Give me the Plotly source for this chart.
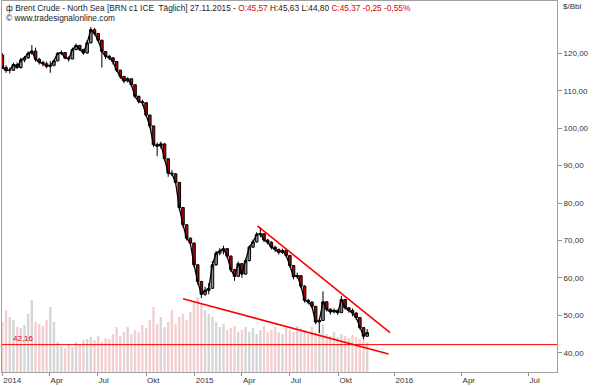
import numpy as np
import pandas as pd
import plotly.graph_objects as go

# ---------------- data (weekly bars) ----------------
week_end = pd.date_range("2014-01-03", periods=100, freq="7D")  # Fridays

opens = [119.5, 116.2, 115.4, 115.5, 117.0, 116.2, 118.2, 118.8, 120.0, 120.6,
         118.4, 117.6, 117.2, 116.5, 116.8, 118.0, 120.0, 120.2, 118.8, 118.5,
         121.0, 122.1, 121.0, 120.1, 122.8, 126.3, 125.3, 123.5, 120.5, 119.2,
         118.8, 117.8, 115.5, 113.8, 112.6, 113.2, 111.6, 108.5, 107.1, 106.8,
         103.5, 100.6, 95.6, 95.2, 95.8, 91.8, 88.0, 87.8, 85.5, 78.8,
         74.2, 70.6, 69.3, 63.5, 59.0, 55.6, 56.6, 57.2, 63.5, 66.6,
         67.2, 67.8, 65.8, 62.2, 60.4, 63.8, 61.0, 64.6, 68.2, 69.6,
         71.6, 71.8, 70.1, 69.5, 68.2, 67.6, 66.8, 67.3, 66.0, 63.3,
         60.3, 60.6, 57.8, 54.0, 53.5, 52.4, 48.2, 48.6, 53.6, 51.6,
         50.9, 51.3, 50.7, 54.2, 52.0, 51.3, 50.6, 49.4, 46.7, 44.4]

highs = [120.0, 116.8, 116.2, 117.5, 117.6, 118.8, 119.3, 120.5, 122.2, 121.5,
         118.8, 118.0, 117.8, 117.9, 118.3, 120.3, 120.8, 120.3, 119.2, 121.5,
         122.6, 122.3, 121.2, 123.5, 127.0, 126.8, 125.4, 123.6, 120.6, 119.6,
         119.0, 117.9, 115.6, 114.0, 113.6, 113.3, 111.7, 108.7, 107.6, 106.9,
         103.6, 100.7, 96.2, 96.4, 95.9, 92.0, 88.8, 88.0, 85.6, 78.9,
         74.3, 70.8, 69.4, 63.6, 59.2, 57.6, 58.6, 64.5, 67.2, 68.0,
         68.6, 68.0, 66.0, 62.4, 64.4, 63.9, 65.2, 68.7, 70.2, 72.2,
         73.5, 71.9, 70.4, 69.8, 68.6, 67.8, 67.8, 67.6, 66.1, 63.4,
         61.4, 60.7, 58.0, 54.4, 53.8, 52.5, 49.2, 56.4, 53.8, 51.9,
         51.8, 51.5, 55.2, 54.4, 52.2, 51.8, 50.8, 49.5, 46.8, 46.3]

lows = [115.8, 114.8, 114.6, 115.3, 115.8, 115.9, 117.6, 118.5, 119.6, 117.8,
        117.0, 116.5, 116.0, 114.8, 116.5, 117.8, 119.5, 118.4, 117.8, 118.4,
        120.8, 120.6, 119.6, 119.9, 122.6, 124.8, 122.8, 116.2, 118.5, 118.2,
        117.0, 115.0, 113.2, 112.0, 112.2, 111.0, 108.0, 106.6, 106.0, 103.0,
        100.0, 95.0, 92.5, 94.5, 91.2, 87.0, 87.2, 85.0, 78.0, 73.5,
        70.0, 68.6, 62.8, 58.2, 54.6, 55.2, 55.6, 57.1, 63.2, 66.0,
        66.3, 65.2, 61.6, 59.2, 60.2, 60.0, 60.8, 64.4, 68.0, 69.4,
        70.8, 69.5, 68.9, 67.6, 66.9, 66.2, 66.4, 65.4, 62.8, 59.6,
        59.8, 57.2, 53.4, 52.9, 51.8, 47.6, 45.3, 48.5, 51.0, 50.2,
        50.5, 50.1, 50.6, 51.5, 50.7, 49.7, 48.8, 46.2, 43.6, 44.2]

closes = [116.2, 115.4, 115.5, 117.0, 116.2, 118.2, 118.8, 120.0, 120.6, 118.4,
          117.6, 117.2, 116.5, 116.8, 118.0, 120.0, 120.2, 118.8, 118.5, 121.0,
          122.1, 121.0, 120.1, 122.8, 126.3, 125.3, 123.5, 120.5, 119.2, 118.8,
          117.8, 115.5, 113.8, 112.6, 113.2, 111.6, 108.5, 107.1, 106.8, 103.5,
          100.6, 95.6, 95.2, 95.8, 91.8, 88.0, 87.8, 85.5, 78.8, 74.2,
          70.6, 69.3, 63.5, 59.0, 55.6, 56.6, 57.2, 63.5, 66.6, 67.2,
          67.8, 65.8, 62.2, 60.4, 63.8, 61.0, 64.6, 68.2, 69.6, 71.6,
          71.8, 70.1, 69.5, 68.2, 67.6, 66.8, 67.3, 66.0, 63.3, 60.3,
          60.6, 57.8, 54.0, 53.5, 52.4, 48.2, 48.6, 53.6, 51.6, 50.9,
          51.3, 50.7, 54.2, 52.0, 51.3, 50.6, 49.4, 46.7, 44.4, 45.37]

volume = ([50, 62, 55, 52, 45, 44, 47, 58, 72, 50, 48, 46, 52, 65, 50]
          + [30, 26, 24, 28, 25, 30, 27, 32]
          + [33, 35, 32, 36, 30, 34, 33, 38, 45]
          + [36, 40, 45, 38, 42, 40, 47, 44, 52]
          + [65, 48, 55, 45, 50, 62, 48, 55]
          + [58, 52, 60, 70, 75, 68, 62, 58]
          + [55, 50, 45, 48, 42, 44, 46, 40]
          + [42, 45, 40, 44, 38, 42, 46, 40]
          + [42, 45, 40, 38, 44, 42, 40, 46]
          + [44, 42, 38, 45, 40, 42, 48, 38, 36, 40]
          + [35, 38, 36, 34, 37, 35, 33, 38, 30])

tick_dates = ["2014-01-01", "2014-04-01", "2014-07-01", "2014-10-01", "2015-01-01",
              "2015-04-01", "2015-07-01", "2015-10-01", "2016-01-01", "2016-04-01",
              "2016-07-01"]
tick_labels = ["2014", "Apr", "Jul", "Okt", "2015", "Apr", "Jul", "Okt", "2016", "Apr", "Jul"]

price_ticks = [40, 50, 60, 70, 80, 90, 100, 110, 120]
price_labels = ["40,00", "50,00", "60,00", "70,00", "80,00", "90,00", "100,00", "110,00", "120,00"]

upper_line_dates = ["2015-04-30", "2015-12-26"]
upper_line_prices = [73.9, 45.35]
lower_line_dates = ["2014-12-10", "2015-12-24"]
lower_line_prices = [54.4, 39.65]
support_level = 42.16

# ---------------- bar-based x scale (trading days, calendar days after last bar) ----
first_day = pd.Timestamp("2014-01-02")
last_day = pd.Timestamp("2015-11-27")


def pos(d):
    d = pd.Timestamp(d)
    if d <= last_day:
        return int(np.busday_count(first_day.date(), d.date()))
    return int(np.busday_count(first_day.date(), last_day.date())) + (d - last_day).days


x_week = [pos(d) - 2 for d in week_end]
tick_pos = [pos(d) for d in tick_dates]

vol_colors = ["#f3cfcf" if c < o else "#d6d6d6" for o, c in zip(opens, closes)]

FONT = "Liberation Sans"
fig = go.Figure()

fig.add_trace(go.Bar(x=x_week, y=volume, marker_color=vol_colors, marker_line_width=0,
                     yaxis="y", hoverinfo="skip"))

# thin close path so the dense bars read as one continuous price trace
fig.add_trace(go.Scatter(x=x_week, y=closes, mode="lines", yaxis="y2",
                         line=dict(color="#000000", width=1.3), hoverinfo="skip"))

fig.add_trace(go.Candlestick(
    x=x_week, open=opens, high=highs, low=lows, close=closes, yaxis="y2",
    increasing=dict(line=dict(color="#000000", width=1), fillcolor="#8c8c8c"),
    decreasing=dict(line=dict(color="#000000", width=1), fillcolor="#b80000"),
    whiskerwidth=0))

for dts, prs in [(upper_line_dates, upper_line_prices), (lower_line_dates, lower_line_prices)]:
    fig.add_trace(go.Scatter(x=[pos(d) for d in dts], y=prs, mode="lines", yaxis="y2",
                             line=dict(color="#ff0000", width=1.6), hoverinfo="skip"))

fig.add_shape(type="line", xref="paper", x0=0, x1=1, yref="y2", y0=support_level, y1=support_level,
              line=dict(color="#ff0000", width=1))

W, H = 595, 386
L, R, T, B = 2, 38, 1, 14
pw, ph = W - L - R, H - T - B


def px_x(px):
    return (px - L) / pw


def px_y(py):
    return (H - B - py) / ph


hdr = ("\u0444 Brent Crude - North Sea [BRN c1 ICE \u00a0T\u00e4glich] 27.11.2015 - "
       "<span style='color:#e00000'>O:45,57</span> H:45,63 L:44,80 "
       "<span style='color:#e00000'>C:45,37 -0,25 -0,55%</span>")

annotations = [
    dict(text=hdr, xref="paper", yref="paper", x=px_x(4), y=px_y(8), xanchor="left",
         yanchor="middle", showarrow=False, font=dict(family=FONT, size=8.3, color="#222222")),
    dict(text="\u00a9 www.tradesignalonline.com", xref="paper", yref="paper", x=px_x(4),
         y=px_y(18.5), xanchor="left", yanchor="middle", showarrow=False,
         font=dict(family=FONT, size=8.3, color="#222222")),
    dict(text="$/Bbl", xref="paper", yref="paper", x=px_x(561), y=px_y(7), xanchor="left",
         yanchor="middle", showarrow=False, font=dict(family=FONT, size=8, color="#333333")),
    dict(text=f"{support_level:.2f}".replace(".", ","), xref="paper", yref="y2", x=px_x(11),
         y=support_level, xanchor="left", yanchor="bottom", showarrow=False,
         font=dict(family=FONT, size=8, color="#e00000")),
]

fig.update_layout(
    width=W, height=H, margin=dict(l=L, r=R, t=T, b=B, autoexpand=False),
    plot_bgcolor="white", paper_bgcolor="white", showlegend=False,
    bargap=0.35, boxgap=0.0,
    annotations=annotations,
    xaxis=dict(range=[-1.5, 751.5], tickmode="array", tickvals=tick_pos, ticktext=tick_labels,
               ticks="outside", ticklen=3, tickcolor="#909090", showline=True, mirror=True,
               linecolor="#a0a0a0", linewidth=1, showgrid=False, zeroline=False,
               ticklabelposition="outside right", rangeslider=dict(visible=False),
               tickfont=dict(family=FONT, size=8, color="#333333")),
    yaxis=dict(range=[0, ph], visible=False, showgrid=False, zeroline=False),
    yaxis2=dict(overlaying="y", side="right", range=[34.84, 133.98], tickmode="array",
                tickvals=price_ticks, ticktext=price_labels, ticks="outside", ticklen=4,
                tickcolor="#909090", showline=True, mirror=True, linecolor="#a0a0a0",
                linewidth=1, showgrid=False, zeroline=False,
                tickfont=dict(family=FONT, size=8, color="#333333")),
)

fig.write_html("out.html", config={"displayModeBar": False},
               post_script="document.body.style.margin='0';document.body.style.padding='0';")
